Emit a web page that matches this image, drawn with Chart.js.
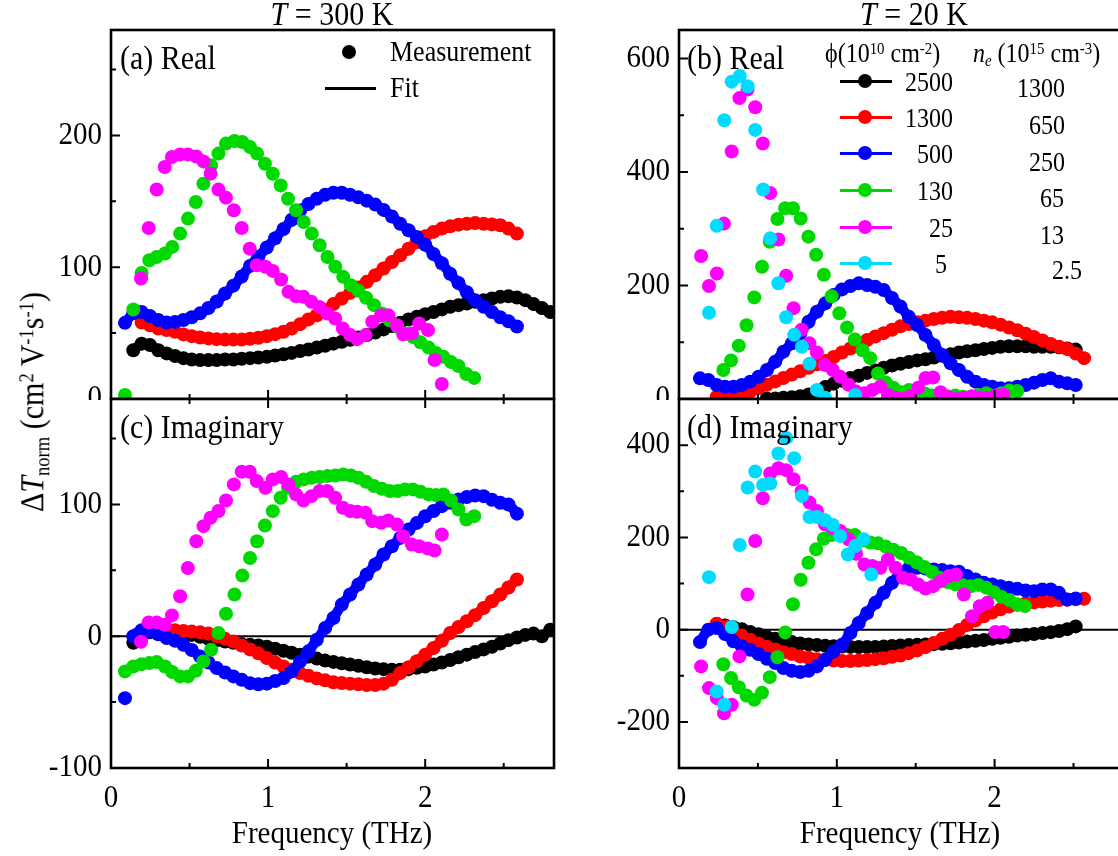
<!DOCTYPE html>
<html>
<head>
<meta charset="utf-8">
<script src="https://cdn.jsdelivr.net/npm/chart.js@4.4.1/dist/chart.umd.min.js"></script>
<style>
  html, body { margin: 0; padding: 0; background: #fff; overflow: hidden; width: 1118px; height: 856px; }
  #fig { position: relative; width: 1118px; height: 856px; overflow: hidden;
         font-family: "Liberation Serif", "Times New Roman", serif; color: #000; }
  canvas { position: absolute; }
  .t { position: absolute; white-space: nowrap; line-height: 1; }
  .c { transform: translate(-50%, -50%) scaleY(1.1); }
  .l { transform: translate(0, -50%) scaleY(1.1); }
  .r { transform: translate(-100%, -50%) scaleY(1.1); }
  .rot { transform: translate(-50%, -50%) rotate(-90deg) scaleY(1.1); }
  sup { font-size: 0.62em; vertical-align: 0; position: relative; top: -0.5em; }
  sub { font-size: 0.62em; vertical-align: 0; position: relative; top: 0.3em; }
  .ln { position: absolute; height: 3px; }
  .dot { position: absolute; width: 14px; height: 14px; border-radius: 50%; transform: translate(-50%, -50%); }
</style>
</head>
<body>
<div id="fig">
  <canvas id="cA" width="560" height="400" style="left:0;top:0"></canvas>
  <canvas id="cC" width="560" height="476" style="left:0;top:380px"></canvas>
  <canvas id="cB" width="570" height="400" style="left:560px;top:0"></canvas>
  <canvas id="cD" width="570" height="476" style="left:560px;top:380px"></canvas>

  <div class="t c" style="left:332px;top:14px;font-size:30px"><i>T</i> = 300 K</div>
  <div class="t c" style="left:914px;top:14px;font-size:30px"><i>T</i> = 20 K</div>

  <div class="t rot" style="left:32px;top:402px;font-size:30px">&Delta;<i>T</i><sub>norm</sub> (cm<sup>2</sup> V<sup>-1</sup>s<sup>-1</sup>)</div>
  <div class="t c" style="left:332px;top:833px;font-size:29px">Frequency (THz)</div>
  <div class="t c" style="left:900px;top:833px;font-size:29px">Frequency (THz)</div>

  <div class="t l" style="left:120px;top:58px;font-size:30px">(a) Real</div>
  <div class="t l" style="left:687px;top:58px;font-size:30px">(b) Real</div>
  <div class="t l" style="left:120px;top:427px;font-size:30px">(c) Imaginary</div>
  <div class="t l" style="left:687px;top:427px;font-size:30px">(d) Imaginary</div>

  <!-- legend of panel (a) -->
  <div class="dot" style="left:349px;top:52px;background:#000"></div>
  <div class="t l" style="left:390px;top:52px;font-size:26px">Measurement</div>
  <div class="ln" style="left:325px;top:87px;width:51px;background:#000"></div>
  <div class="t l" style="left:390px;top:88px;font-size:26px">Fit</div>

  <!-- legend of panel (b) -->
  <div class="t l" style="left:825px;top:53px;font-size:24px">&#981;(10<sup>10</sup> cm<sup>-2</sup>)</div>
  <div class="t l" style="left:973px;top:53px;font-size:24px"><i>n<sub>e</sub></i> (10<sup>15</sup> cm<sup>-3</sup>)</div>
  <div id="legB"></div>
</div>

<script>
// ---------- frequency grids (THz) ----------
const freqL = [0.089,0.142,0.195,0.248,0.301,0.354,0.408,0.461,0.514,0.567,0.620,0.673,0.726,0.779,0.832,0.885,0.938,0.992,1.045,1.098,1.150,1.204,1.257,1.310,1.363,1.416,1.469,1.522,1.575,1.628,1.682,1.735,1.788,1.841,1.894,1.947,2.000,2.053,2.106,2.159,2.212,2.265,2.318,2.372,2.425,2.478,2.530,2.584,2.637,2.690,2.743,2.796];
const freqR = [0.133,0.186,0.239,0.292,0.345,0.398,0.451,0.504,0.557,0.610,0.662,0.715,0.768,0.821,0.874,0.927,0.980,1.033,1.086,1.139,1.192,1.244,1.297,1.350,1.403,1.456,1.509,1.562,1.615,1.668,1.721,1.774,1.826,1.879,1.932,1.985,2.038,2.091,2.144,2.197,2.250,2.303,2.356,2.408,2.461,2.514,2.567];
const freq130_300 = [0.089,0.142,0.195,0.244,0.291,0.344,0.390,0.440,0.490,0.540,0.588,0.637,0.684,0.732,0.786,0.836,0.885,0.930,0.980,1.030,1.080,1.127,1.178,1.227,1.278,1.328,1.378,1.428,1.478,1.527,1.575,1.624,1.674,1.724,1.774,1.824,1.872,1.922,1.970,2.022,2.068,2.116,2.165,2.212,2.262,2.312];
const freq25_300 = [0.191,0.240,0.291,0.342,0.388,0.440,0.489,0.543,0.589,0.634,0.684,0.732,0.782,0.832,0.883,0.928,0.983,1.030,1.083,1.130,1.178,1.225,1.276,1.327,1.377,1.427,1.476,1.523,1.567,1.620,1.663,1.720,1.765,1.820,1.860,1.915,1.962,2.018,2.060,2.106];
const freq130_20 = [0.281,0.330,0.379,0.428,0.477,0.526,0.575,0.624,0.673,0.722,0.771,0.820,0.869,0.918,0.967,1.016,1.065,1.114,1.163,1.212,1.261,1.310,1.359,1.408,1.457,1.506,1.555,1.604,1.653,1.702,1.751,1.800,1.849,1.898,1.947,1.996,2.045,2.094,2.143,2.192];
const freq25_20 = [0.140,0.190,0.240,0.285,0.334,0.383,0.434,0.483,0.531,0.578,0.630,0.679,0.726,0.777,0.827,0.874,0.925,0.975,1.022,1.075,1.122,1.175,1.226,1.276,1.324,1.372,1.420,1.468,1.516,1.562,1.611,1.658,1.710,1.755,1.805,1.857,1.906,1.954,2.005,2.055];
const freq5_20 = [0.190,0.239,0.287,0.334,0.385,0.435,0.483,0.533,0.578,0.630,0.679,0.730,0.779,0.827,0.874,0.926,0.975,1.022,1.070,1.117,1.170,1.219];

// ---------- T = 300 K, real part ----------
const re300_2500 = [null,37,42,41,37,34.6,32.6,31,30,29.5,29.5,29.5,30,30,30.5,31,31.5,32,33,34,35,36.4,37.6,39,40.4,42,43.4,45,46.7,48.5,50.5,52.8,55.3,57.8,60.4,62.4,64.4,66,68,70,71.2,72.5,73.7,75,76.3,77.5,78,77,75,72,69,66];
const re300_1300 = [null,null,58,56,53.5,52.3,51,49,47.7,46.7,46,45.4,45.2,45.2,45.2,45.7,46.5,47.7,49.2,51,53.5,56.8,60.4,63.6,67.4,72,76.3,80.5,84.6,88.9,93.9,99,104,109,114,119,123.5,126.8,129.3,131,132.3,133,133.6,133,132.5,131.8,129.3,125.5,null,null,null,null];
const re300_500 = [57.8,65,66,63,60,58,58.5,60,62,65,69,74,80,86,93,101,108,115,122,129,136,143,148,152,155,156.5,156.5,155,153,150.5,147.5,143.5,138.5,133,128,123,117,110,103,95,88,81,75,70,66,62,59,55,null,null,null,null];
const re300_130 = [3,67.9,95.7,105.3,107.8,110.4,115.4,125.5,136.9,149.5,163.4,177.3,186.2,193.8,195.8,195,191.2,186.2,178.5,170.9,162.1,152,143.2,134.3,125.5,116.7,107.8,100.3,92.7,86.4,82.1,76.8,71.2,64.9,59.8,54.8,49.7,47,43,39,35,32,28,25,19,16];
const re300_25 = [91.4,129.8,159,176,183.6,185.6,185.6,184,180.3,171,158.9,152.8,143.2,129.8,114.1,101.5,100.3,97.2,90.7,81.3,78,77.5,73.7,69.9,64.9,61.1,53.5,48.5,45.4,48.5,58.6,63.6,63.6,56,49,49.7,57.3,52.3,29.6,11.4];

// ---------- T = 300 K, imaginary part ----------
const im300_2500 = [null,-5,1,3,3.5,3.5,3,2,1,-0.5,-2,-3,-4,-5,-6,-6.5,-7,-8,-9.5,-11,-12.5,-14,-15.5,-17,-18.5,-19.5,-20.5,-21.5,-22.5,-23.5,-24.5,-25,-25.5,-25.5,-25,-24,-23,-21.5,-20,-18,-16,-14,-12,-10,-8,-5.5,-3,-1,1,2,0,5];
const im300_1300 = [null,null,-1,4,5,5,4.5,4,3.5,3,2,0,-2,-4,-7,-10,-13,-16.5,-20,-23,-25.5,-28,-30,-32,-33.5,-35,-35.5,-36,-36.5,-37,-37,-36,-33,-28,-23.5,-19,-14,-9,-3.5,2.4,7,11.3,16,21.4,26.5,31.6,37,43,null,null,null,null];
const im300_500 = [-47,0,4.5,3.5,1.5,-1.4,-3.5,-6.5,-10.5,-15.3,-20,-24.2,-27.5,-30.5,-33,-35.6,-36.4,-36,-34,-31.8,-26.7,-19.1,-11.5,-2.7,6.2,13.8,24,31.6,39.2,46.8,54.4,62,68.3,74.6,81,86,91,95,98.7,101.3,103.8,105.6,106.8,106.3,103.5,101.3,100,93,null,null,null,null];
const im300_130 = [-26.7,-23,-21.2,-20.4,-19.6,-23,-27.2,-30.5,-30.5,-26.2,-19.1,-10.3,2.4,17.1,31.6,46,59.4,72.1,84,94.9,105.1,112.7,117.2,119,120.3,120.8,121.5,122,122.8,122,120.3,117.2,113.9,111.9,110.1,110.1,111.4,111.4,109.6,107.6,107.1,107.6,103,96.2,88.6,91.1];
const im300_25 = [-4.2,10.5,10.5,8.7,15.8,30.3,51.8,72.1,83.5,89.9,95,103,115.2,124.8,124.8,117.7,112.7,119,120.8,115.2,107.6,103,106.3,110.1,110.1,105.1,97.5,95,94.4,93.7,87.3,86.1,87.8,84.8,75.9,69.6,68.3,66.5,65,77.2];

// ---------- T = 20 K, real part ----------
const re20_2500 = [null,null,null,null,null,null,null,null,1,1,2,3,5,8,14,21,27,32,37,41,46,50,55,59,62,65,68,70,73,76,79,82,84,86,88,90,92,93,93,93,92,92,92,91,89,87,null];
const re20_1300 = [null,null,4,6,7,9,13,19,25,31,37,43,49,55,61,67,74,82,89,96,104,110,116,122,128,132,135,138,141,143,145,144,143,141,138,135,131,126,121,115,109,103,97,92,88,80,72];
const re20_500 = [36.4,33.5,24.7,21.7,21.7,24.7,30.6,39.3,51.1,65.8,83.4,98,115.6,136.2,153.8,168.5,183.1,193.1,199,203.7,200.7,197.8,191.9,178,163,145,130.3,112.7,95.1,77.5,62.8,51.1,39.3,30.6,24.7,21.7,18.8,18.8,21.7,24.7,28.8,33.5,36.4,30.6,27.6,24.7,null];
const re20_130 = [51,68,94,130,179,233,277,317,336,336,318,286,254,219,181,151,126,105,86,72,45,29,20,12,16,8,10,6,6,5,6,4,4,7,10,5,10,15,14,null];
const re20_25 = [252,199,221,309,436,530,545,514,450,363,281,217,160,122,98,82,60,51,39,25,13,10,16,22,7,2,0,5,20,37,38,12,3,0,2,5,3,2,6,8];
const re20_5 = [152,305,491,559,569,551,474,369,283,204,144,113,92,62,16,2,null,null,null,7,null,null];

// ---------- T = 20 K, imaginary part ----------
const im20_2500 = [null,null,12,9,5,1,-5,-10,-16,-20,-24,-27,-30,-32,-33.5,-35,-36,-36.5,-37.5,-37.7,-37.7,-37.5,-36.5,-35.5,-34.5,-33.5,-33,-32,-31.5,-30.5,-29.5,-28,-26,-24,-22.5,-20,-17.5,-15.5,-13,-11,-9.5,-7.5,-5.5,-3,1,7,null];
const im20_1300 = [null,null,13,6,-4,-13,-22,-30,-37,-43,-49,-53,-58,-61,-64,-66,-67,-68,-68,-67,-66,-64,-62,-59,-56,-51,-45,-38,-29,-20,-11,-1,10,20,29,37,44,50,54,57,59,61,62.5,64,65,66,67];
const im20_500 = [-27,0,3.6,-9.4,-25.4,-36.2,-43.5,-52.9,-63,-72.5,-83.3,-89.1,-92,-89.1,-79.7,-65.2,-47.1,-32.6,-7.2,14.5,36.2,58,79.7,101.4,123.2,132.6,134.1,132.6,130.5,129,126.8,125.4,116,108.7,101.4,97.8,94.2,90.6,88.4,84.8,83.4,87,87,79.7,65.2,67.4,null];
const im20_130 = [-75,-105,-125,-143,-152,-137,-103,-60,-6,55,108,145,174,197,205,206,205,205,193,189,187,180,173,166,156,146,136,125,112,103,98,96,94,97,91,81,71,64,55,51];
const im20_25 = [-79.7,-126.8,-148.6,-181.2,-163,-58,76.1,192,284.8,338.4,350,345.7,326,300.8,275.4,257.3,228.3,221,213.8,195.7,164.5,141.3,137.7,134.1,152.2,134.1,112.3,108.7,97.8,89.1,94.2,105.1,116,119.6,76.1,29,50.8,58,-5.1,-5.1];
const im20_5 = [113.8,-134,-163,5.8,183.4,308,342.8,313.8,316.7,381.9,415.3,371.8,289.9,244.2,244.2,237,226.8,202.9,163,181.2,195.7,119.6];

// ---------- axis ticks ----------
const freqTicks = [0, 1, 2];
const ticksA = [0, 100, 200];
const ticksC = [-100, 0, 100];
const ticksB = [0, 200, 400, 600];
const ticksD = [-200, 0, 200, 400];

// ---------- legend of panel (b) ----------
const fluence = ['2500', '1300', '500', '130', '25', '5'];
const density = ['1300', '650', '250', '65', '13', '2.5'];

const COL = { k: '#000000', r: '#ff0000', b: '#0000ff', g: '#00d800', m: '#ff00ff', c: '#00dcff' };
const ORDER = { k: 6, r: 5, b: 4, g: 3, m: 2, c: 1 };
const MARKER_R = 7;

// frame, inward ticks, tick labels and zero line
const axisFrame = {
  id: 'axisFrame',
  beforeDatasetsDraw(chart, args, o) {
    if (!o.zero) return;
    const { ctx, chartArea: a, scales: { y } } = chart;
    const py = y.getPixelForValue(0);
    ctx.save();
    ctx.strokeStyle = '#000'; ctx.lineWidth = 2;
    ctx.beginPath(); ctx.moveTo(a.left, py); ctx.lineTo(a.right, py); ctx.stroke();
    ctx.restore();
  },
  afterDatasetsDraw(chart, args, o) {
    const { ctx, chartArea: a, scales: { x, y } } = chart;
    ctx.save();
    ctx.strokeStyle = '#000';
    ctx.lineWidth = 2;
    ctx.beginPath();
    for (let v = Math.ceil(y.min / o.yMinor) * o.yMinor; v <= y.max; v += o.yMinor) {
      const py = y.getPixelForValue(v);
      const len = o.yLabels.includes(v) ? 9 : 5;
      ctx.moveTo(a.left, py); ctx.lineTo(a.left + len, py);
    }
    for (let v = 0.5; v < x.max; v += 0.5) {
      const px = x.getPixelForValue(v);
      const len = Number.isInteger(v) ? 9 : 5;
      ctx.moveTo(px, a.bottom); ctx.lineTo(px, a.bottom - len);
      if (o.topTicks) { ctx.moveTo(px, a.top); ctx.lineTo(px, a.top + len); }
    }
    ctx.stroke();
    ctx.lineWidth = 2.6;
    ctx.strokeRect(a.left, a.top, a.right - a.left, a.bottom - a.top);

    ctx.fillStyle = '#000';
    ctx.font = '29px "Liberation Serif", "Times New Roman", serif';
    ctx.textBaseline = 'middle';
    ctx.textAlign = 'right';
    o.yLabels.forEach(v => {
      ctx.save();
      ctx.translate(a.left - 9, y.getPixelForValue(v));
      ctx.scale(1, 1.1);
      ctx.fillText(String(v), 0, 0);
      ctx.restore();
    });
    if (o.xLabels) {
      ctx.textAlign = 'center';
      o.xLabels.forEach(v => {
        ctx.save();
        ctx.translate(x.getPixelForValue(v), a.bottom + 31);
        ctx.scale(1, 1.1);
        ctx.fillText(String(v), 0, 0);
        ctx.restore();
      });
    }
    ctx.restore();
  }
};

// dense series: closely spaced markers over a fitted band; sparse series: markers only
function series(xs, ys, key, dense) {
  const pts = [];
  xs.forEach((x, i) => { if (ys[i] !== null && ys[i] !== undefined) pts.push({ x: x, y: ys[i] }); });
  const ds = {
    data: pts, backgroundColor: COL[key], borderWidth: 0, pointBorderWidth: 0,
    pointRadius: MARKER_R, order: ORDER[key], showLine: false
  };
  if (dense) {
    Object.assign(ds, {
      showLine: true, borderColor: COL[key], borderWidth: 10, pointBorderWidth: 0, tension: 0.3,
      borderJoinStyle: 'round', borderCapStyle: 'round',
      segment: { borderColor: c => Math.hypot(c.p1.x - c.p0.x, c.p1.y - c.p0.y) > 18 ? 'rgba(0,0,0,0)' : COL[key] }
    });
  }
  return ds;
}

function panel(id, datasets, yMin, yMax, yMinor, yLabels, pad, extra) {
  return new Chart(document.getElementById(id), {
    type: 'scatter',
    data: { datasets: datasets },
    options: {
      responsive: false, animation: false, devicePixelRatio: 1, events: [],
      layout: { padding: pad, autoPadding: false },
      scales: {
        x: { type: 'linear', min: 0, max: 2.82, display: false },
        y: { type: 'linear', min: yMin, max: yMax, display: false }
      },
      plugins: {
        legend: { display: false }, tooltip: { enabled: false },
        axisFrame: Object.assign({ yMinor: yMinor, yLabels: yLabels }, extra)
      }
    },
    plugins: [axisFrame]
  });
}

panel('cA', [
  series(freqL, re300_2500, 'k', true), series(freqL, re300_1300, 'r', true), series(freqL, re300_500, 'b', true),
  series(freq130_300, re300_130, 'g'), series(freq25_300, re300_25, 'm')
], 0, 280, 50, ticksA, { left: 111, top: 30, right: 6, bottom: 1 }, {});

panel('cC', [
  series(freqL, im300_2500, 'k', true), series(freqL, im300_1300, 'r', true), series(freqL, im300_500, 'b', true),
  series(freq130_300, im300_130, 'g'), series(freq25_300, im300_25, 'm')
], -100, 180, 50, ticksC, { left: 111, top: 19, right: 6, bottom: 88 }, { zero: true, topTicks: true, xLabels: freqTicks });

panel('cB', [
  series(freqR, re20_2500, 'k', true), series(freqR, re20_1300, 'r', true), series(freqR, re20_500, 'b', true),
  series(freq130_20, re20_130, 'g'), series(freq25_20, re20_25, 'm'), series(freq5_20, re20_5, 'c')
], 0, 650, 100, ticksB, { left: 119, top: 30, right: 6, bottom: 1 }, {});

panel('cD', [
  series(freqR, im20_2500, 'k', true), series(freqR, im20_1300, 'r', true), series(freqR, im20_500, 'b', true),
  series(freq130_20, im20_130, 'g'), series(freq25_20, im20_25, 'm'), series(freq5_20, im20_5, 'c')
], -300, 500, 100, ticksD, { left: 119, top: 19, right: 6, bottom: 88 }, { zero: true, topTicks: true, xLabels: freqTicks });

// legend rows of panel (b)
const legB = document.getElementById('legB');
const rowKeys = ['k', 'r', 'b', 'g', 'm', 'c'];
const rowY = [81, 117, 153, 190, 227, 263];
const fluRight = [953, 953, 953, 953, 953, 947];
const denY = [88, 125, 162, 198, 235, 270];
const denRight = [1065, 1065, 1065, 1064, 1064, 1082];
rowKeys.forEach((k, i) => {
  legB.insertAdjacentHTML('beforeend',
    `<div class="ln" style="left:840px;top:${rowY[i] - 1.5}px;width:52px;background:${COL[k]}"></div>` +
    `<div class="dot" style="left:865px;top:${rowY[i]}px;background:${COL[k]}"></div>` +
    `<div class="t r" style="left:${fluRight[i]}px;top:${rowY[i] + 1}px;font-size:24px">${fluence[i]}</div>` +
    `<div class="t r" style="left:${denRight[i]}px;top:${denY[i]}px;font-size:24px">${density[i]}</div>`);
});
</script>
</body>
</html>
